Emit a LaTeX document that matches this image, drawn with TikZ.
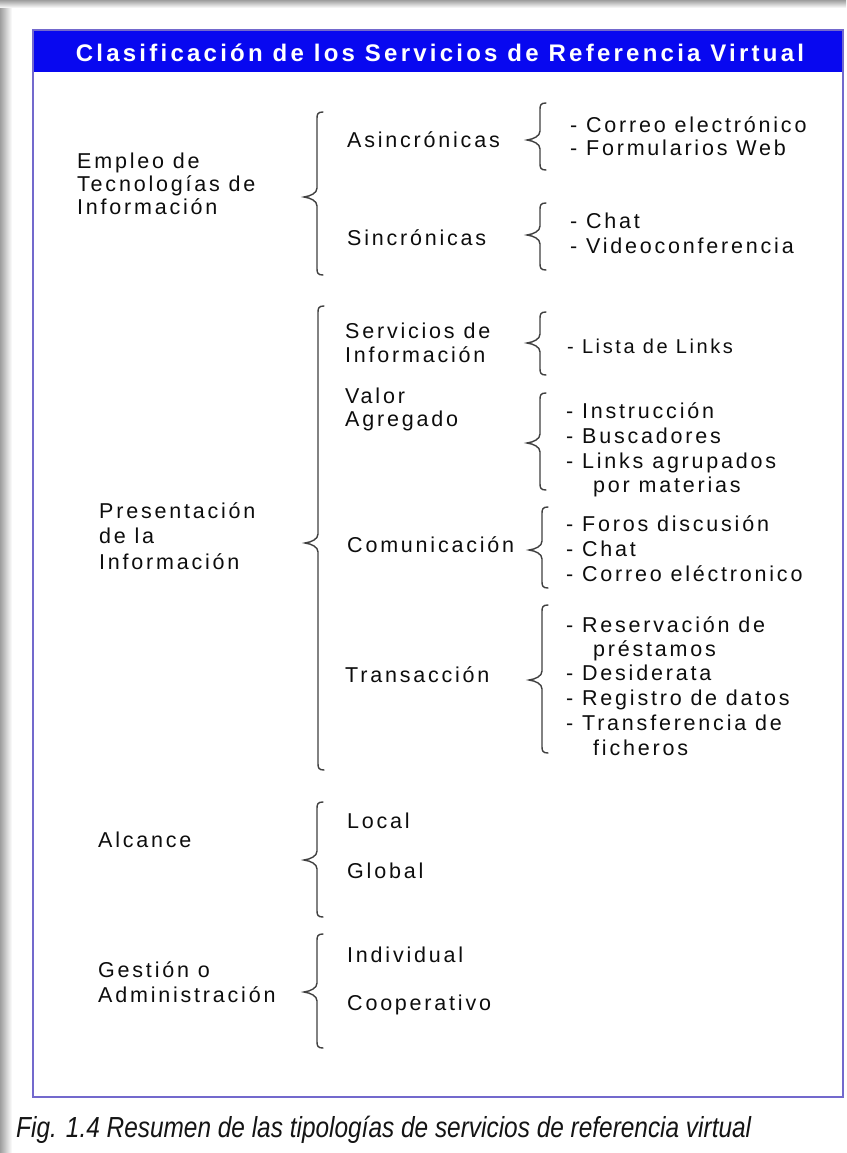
\documentclass[tikz,border=0pt]{standalone}
\usepackage{graphicx}
\usepackage{fontspec}
\setmainfont{Liberation Sans}
\newfontfamily\bodyfam{Liberation Sans}[LetterSpace=13]
\newfontfamily\titlefam{Liberation Sans}[LetterSpace=13.5]
\definecolor{hdrblue}{RGB}{8,8,240}
\definecolor{framepurple}{RGB}{115,105,205}
\newcommand\mybrace[4]{%
  \draw[brc] (#1+6,#2) .. controls (#1+1,#2) and (#1,#2+2) .. (#1,#2+6)
    -- (#1,#3-9) .. controls (#1,#3-4) and (#1-6,#3-1) .. (#1-13,#3)
    .. controls (#1-6,#3+1) and (#1,#3+4) .. (#1,#3+9)
    -- (#1,#4-6) .. controls (#1,#4-2) and (#1+1,#4) .. (#1+6,#4);}
\begin{document}
\begin{tikzpicture}[x=1pt,y=-1pt,
  txt/.style={anchor=base west, inner sep=0pt, text=black!95, font=\bodyfam\fontsize{21.5}{23}\selectfont},
  sml/.style={txt, font=\bodyfam\fontsize{20}{22}\selectfont},
  brc/.style={draw=black!75, line width=1.4pt, line cap=round}]
\useasboundingbox (0,0) rectangle (846,1153);
\fill[white] (0,0) rectangle (846,1153);
% screenshot shadow
\shade[left color=black!38, right color=white] (0,0) rectangle (12,1153);
\shade[top color=black!38, bottom color=white] (0,0) rectangle (846,8);
% frame and header
\fill[hdrblue] (33,30) rectangle (843,72);
\draw[framepurple, line width=2pt] (33,30) rectangle (843,1097);
\node[anchor=base, inner sep=0pt, text=white, font=\titlefam\bfseries\fontsize{24}{26}\selectfont] (title) at (440,62) {Clasificación de los Servicios de Referencia Virtual};

% ---- Section 1
\node[txt] (e1a) at (77,168) {Empleo de};
\node[txt] (e1b) at (77,191) {Tecnologías de};
\node[txt] (e1c) at (77,214) {Información};
\mybrace{317}{112}{197}{275}
\node[txt] (asin) at (347,147) {Asincrónicas};
\node[txt] (sinc) at (347,245) {Sincrónicas};
\mybrace{540}{103}{140}{170}
\node[txt] (a1) at (570,132) {- Correo electrónico};
\node[txt] (a2) at (570,155) {- Formularios Web};
\mybrace{540}{203}{235}{270}
\node[txt] (s1) at (570,228) {- Chat};
\node[txt] (s2) at (570,253) {- Videoconferencia};

% ---- Section 2
\node[txt] (p1a) at (99,518) {Presentación};
\node[txt] (p1b) at (99,543) {de la};
\node[txt] (p1c) at (99,569) {Información};
\mybrace{318}{306}{543}{770}
\node[txt] (sia) at (345,338) {Servicios de};
\node[txt] (sib) at (345,362) {Información};
\mybrace{540}{312}{343}{375}
\node[sml] (si1) at (567,353) {- Lista de Links};
\node[txt] (vaa) at (345,403) {Valor};
\node[txt] (vab) at (345,426) {Agregado};
\mybrace{540}{393}{443}{490}
\node[txt] (va1) at (566,418) {- Instrucción};
\node[txt] (va2) at (566,443) {- Buscadores};
\node[txt] (va3) at (566,468) {- Links agrupados};
\node[txt] (va4) at (593,492) {por materias};
\node[txt] (com) at (347,552) {Comunicación};
\mybrace{542}{507}{550}{588}
\node[txt] (co1) at (566,531) {- Foros discusión};
\node[txt] (co2) at (566,556) {- Chat};
\node[txt] (co3) at (566,581) {- Correo eléctronico};
\node[txt] (tra) at (345,682) {Transacción};
\mybrace{542}{605}{680}{753}
\node[txt] (tr1) at (566,632) {- Reservación de};
\node[txt] (tr2) at (593,656) {préstamos};
\node[txt] (tr3) at (566,680) {- Desiderata};
\node[txt] (tr4) at (566,705) {- Registro de datos};
\node[txt] (tr5) at (566,730) {- Transferencia de};
\node[txt] (tr6) at (593,755) {ficheros};

% ---- Section 3
\node[txt] (alc) at (98,847) {Alcance};
\mybrace{317}{802}{860}{917}
\node[txt] (loc) at (347,828) {Local};
\node[txt] (glo) at (347,878) {Global};

% ---- Section 4
\node[txt] (gea) at (98,977) {Gestión o};
\node[txt] (geb) at (98,1002) {Administración};
\mybrace{317}{934}{992}{1048}
\node[txt] (ind) at (347,962) {Individual};
\node[txt] (coo) at (347,1010) {Cooperativo};

% ---- caption
\node[anchor=base west, inner sep=0pt, text=black!92] (cap) at (16,1137)
  {\resizebox{735pt}{\height}{\itshape\fontsize{29}{31}\selectfont Fig. 1.4 Resumen de las tipologías de servicios de referencia virtual}};
\end{tikzpicture}
\end{document}
